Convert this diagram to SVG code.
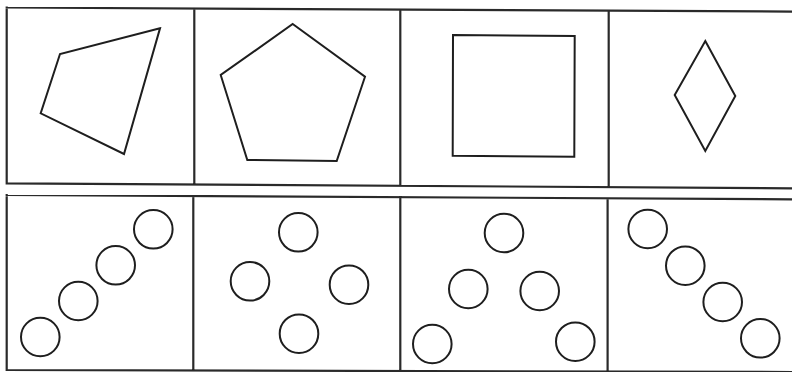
<svg xmlns="http://www.w3.org/2000/svg" width="792" height="372" viewBox="0 0 792 372">
<style>
.frame{fill:none;stroke:#2a2a2a;stroke-width:2.2;stroke-linecap:square}
.fig{fill:none;stroke:#1e1e1e;stroke-width:2;stroke-linejoin:miter}
.c{fill:none;stroke:#1e1e1e;stroke-width:2}
</style>
<rect width="792" height="372" fill="#ffffff"/>
<g id="grid">
<path class="frame" d="M6.7 7.5 L792 11.6 M6.7 183.3 L792 188.3 M6.7 7.5 L6.7 183.3 M194.3 8.5 L194.3 184.4 M400.3 9.6 L400.3 185.4 M608.7 10.7 L608.7 186.6"/>
<path class="frame" d="M6.7 195 L792 199.3 M6.7 370 L792 372 M6.7 195 L6.7 370 M193.3 196 L193.3 370.5 M400.3 197.2 L400.3 370.9 M607.6 198.3 L607.6 371.3"/>
</g>
<g id="quad"><polygon class="fig" points="160,28.3 60,54 40.7,113.3 124,154"/></g>
<g id="pentagon"><polygon class="fig" points="292.7,24 365,76.7 336.7,161 247.3,160 220.7,75"/></g>
<g id="square"><polygon class="fig" points="453,35 574.7,36 574.3,156.7 452.7,155.7"/></g>
<g id="diamond"><polygon class="fig" points="705.3,41 735.3,96 705.3,151 674.7,95"/></g>
<g id="circles1">
<circle class="c" cx="153.3" cy="229.3" r="19.3"/>
<circle class="c" cx="115.7" cy="265.3" r="19.3"/>
<circle class="c" cx="78.3" cy="301" r="19.3"/>
<circle class="c" cx="40.3" cy="337" r="19.3"/>
</g>
<g id="circles2">
<circle class="c" cx="298.3" cy="232.3" r="19.3"/>
<circle class="c" cx="250" cy="281.3" r="19.3"/>
<circle class="c" cx="349" cy="284.7" r="19.3"/>
<circle class="c" cx="299" cy="333.7" r="19.3"/>
</g>
<g id="circles3">
<circle class="c" cx="504" cy="233" r="19.3"/>
<circle class="c" cx="468.3" cy="289" r="19.3"/>
<circle class="c" cx="539.7" cy="291" r="19.3"/>
<circle class="c" cx="432.3" cy="344" r="19.3"/>
<circle class="c" cx="575.3" cy="341.7" r="19.3"/>
</g>
<g id="circles4">
<circle class="c" cx="647.7" cy="229" r="19.3"/>
<circle class="c" cx="685.3" cy="265.7" r="19.3"/>
<circle class="c" cx="722.7" cy="302" r="19.3"/>
<circle class="c" cx="760.3" cy="338.3" r="19.3"/>
</g>
</svg>
